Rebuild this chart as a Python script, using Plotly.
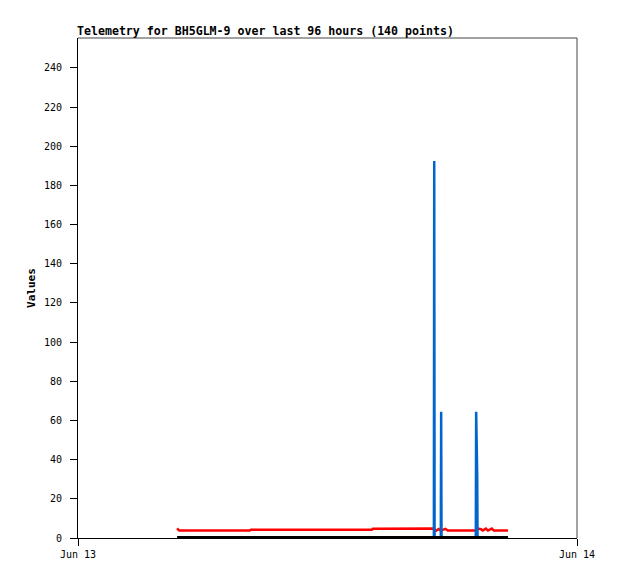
import plotly.graph_objects as go

# Times (Jun 13, local) and values
red_times = ["2024-06-13 04:46", "2024-06-13 04:52", "2024-06-13 08:16", "2024-06-13 08:19",
             "2024-06-13 14:08", "2024-06-13 14:11", "2024-06-13 17:07", "2024-06-13 17:13",
             "2024-06-13 17:21", "2024-06-13 17:27", "2024-06-13 17:40", "2024-06-13 17:47",
             "2024-06-13 19:08", "2024-06-13 19:14", "2024-06-13 19:23", "2024-06-13 19:28",
             "2024-06-13 19:37", "2024-06-13 19:43", "2024-06-13 19:54", "2024-06-13 20:00",
             "2024-06-13 20:41"]
red_values = [4.9, 3.8, 3.8, 4.2,
              4.2, 4.7, 4.9, 3.7,
              4.6, 3.8, 4.7, 3.8,
              3.8, 4.8, 4.5, 3.8,
              4.8, 3.8, 4.8, 3.8,
              3.8]

blue_times = ["2024-06-13 04:46", "2024-06-13 17:07", "2024-06-13 17:08", "2024-06-13 17:09",
              "2024-06-13 17:27", "2024-06-13 17:28", "2024-06-13 17:29",
              "2024-06-13 19:08", "2024-06-13 19:09", "2024-06-13 19:12", "2024-06-13 19:13",
              "2024-06-13 20:41"]
blue_values = [0, 0, 192.5, 0,
               0, 64.4, 0,
               0, 64.4, 32.2, 0,
               0]

black_times = ["2024-06-13 04:46", "2024-06-13 20:41"]
black_values = [0.4, 0.4]

x_range = ["2024-06-13 00:00", "2024-06-14 00:00"]
y_ticks = list(range(0, 241, 20))
title_text = "Telemetry for BH5GLM-9 over last 96 hours (140 points)"

fig = go.Figure()
fig.add_trace(go.Scatter(x=red_times, y=red_values, mode="lines",
                         line=dict(color="#ff0000", width=2.5), hoverinfo="skip"))
fig.add_trace(go.Scatter(x=blue_times, y=blue_values, mode="lines",
                         line=dict(color="#0066cc", width=2.5), hoverinfo="skip"))
fig.add_trace(go.Scatter(x=black_times, y=black_values, mode="lines",
                         line=dict(color="#000000", width=2.5), hoverinfo="skip"))

mono = "DejaVu Sans Mono"
fig.update_layout(
    width=618, height=579,
    margin=dict(l=70, r=49, t=30, b=49),
    paper_bgcolor="white", plot_bgcolor="white",
    showlegend=False,
    title=dict(text="<b>" + title_text + "</b>", x=69/618, xanchor="left",
               y=1 - 23/579, yanchor="middle", xref="container", yref="container",
               font=dict(family=mono, size=11.6, color="black")),
    xaxis=dict(type="date", range=x_range, tickvals=x_range, tickformat="%b %d",
               showgrid=False, zeroline=False, showline=True, linecolor="black",
               linewidth=1, ticks="outside", ticklen=7, tickcolor="black",
               tickfont=dict(family=mono, size=10, color="black")),
    yaxis=dict(range=[0, 255.3], tickvals=y_ticks, showgrid=False, zeroline=False,
               showline=True, linecolor="black", linewidth=1, ticks="outside",
               ticklen=7, tickcolor="black", ticklabelstandoff=6,
               tickfont=dict(family=mono, size=10, color="black"),
               title=dict(text="<b>Values</b>", standoff=6,
                          font=dict(family=mono, size=11, color="black"))),
    shapes=[
        dict(type="line", xref="paper", yref="paper", x0=0, x1=1, y0=1, y1=1,
             line=dict(color="#444444", width=1)),
        dict(type="line", xref="paper", yref="paper", x0=1, x1=1, y0=0, y1=1,
             line=dict(color="#444444", width=1)),
    ],
)
fig.write_html("out.html")
